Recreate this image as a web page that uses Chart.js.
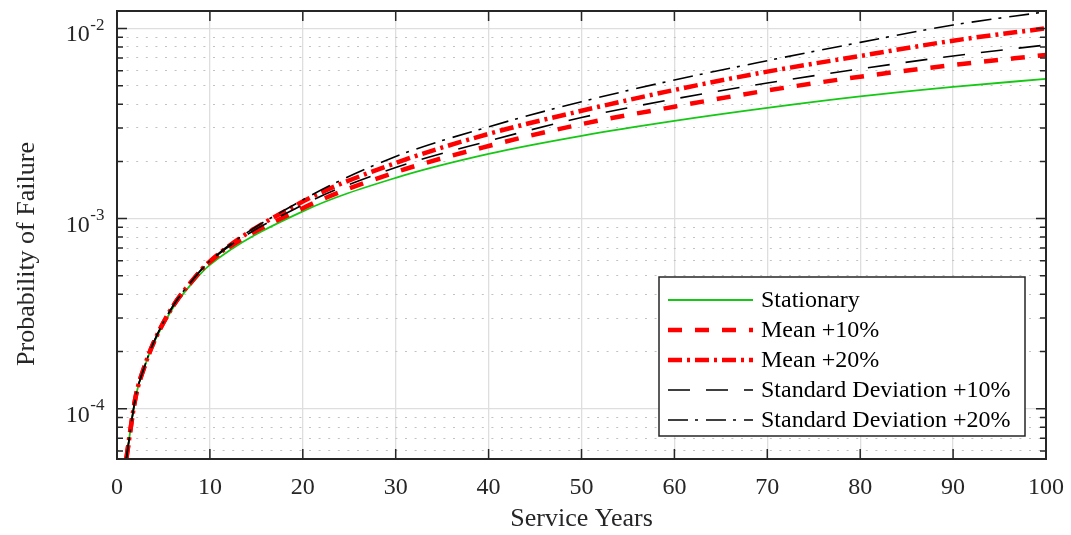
<!DOCTYPE html>
<html>
<head>
<meta charset="utf-8">
<script src="https://cdn.jsdelivr.net/npm/chart.js@4.4.1/dist/chart.umd.min.js"></script>
<style>
  html, body { margin: 0; padding: 0; background: #ffffff; }
  #wrap { width: 1071px; height: 535px; }
</style>
</head>
<body>
<div id="wrap"><canvas id="c" width="1071" height="535"></canvas></div>
<script>
// ---------------- data ----------------
const years = [1, 2, 3, 4, 6, 8, 10, 20, 30, 40, 50, 60, 70, 80, 90, 100];
const stationary = [5.44e-5, 1.15e-4, 1.68e-4, 2.24e-4, 3.38e-4, 4.52e-4, 5.71e-4, 1.092e-3, 1.638e-3, 2.189e-3, 2.723e-3, 3.264e-3, 3.82e-3, 4.39e-3, 4.93e-3, 5.43e-3];
const mean10 = [5.44e-5, 1.15e-4, 1.69e-4, 2.26e-4, 3.44e-4, 4.64e-4, 5.93e-4, 1.135e-3, 1.754e-3, 2.41e-3, 3.14e-3, 3.88e-3, 4.72e-3, 5.58e-3, 6.43e-3, 7.26e-3];
const mean20 = [5.44e-5, 1.15e-4, 1.69e-4, 2.26e-4, 3.45e-4, 4.66e-4, 5.96e-4, 1.229e-3, 1.96e-3, 2.79e-3, 3.69e-3, 4.75e-3, 5.93e-3, 7.17e-3, 8.63e-3, 1.002e-2];
const sd10 = [5.44e-5, 1.15e-4, 1.69e-4, 2.26e-4, 3.45e-4, 4.66e-4, 5.96e-4, 1.181e-3, 1.855e-3, 2.56e-3, 3.40e-3, 4.26e-3, 5.17e-3, 6.13e-3, 7.17e-3, 8.19e-3];
const sd20 = [5.44e-5, 1.15e-4, 1.69e-4, 2.27e-4, 3.46e-4, 4.68e-4, 6.0e-4, 1.255e-3, 2.12e-3, 3.04e-3, 4.12e-3, 5.36e-3, 6.77e-3, 8.45e-3, 1.043e-2, 1.225e-2];

const seriesNames = ['Stationary', 'Mean +10%', 'Mean +20%', 'Standard Deviation +10%', 'Standard Deviation +20%'];

const xTickValues = [0, 10, 20, 30, 40, 50, 60, 70, 80, 90, 100];
const xTickLabels = ['0', '10', '20', '30', '40', '50', '60', '70', '80', '90', '100'];
const yMajorTicks = [1e-4, 1e-3, 1e-2];
const yMin = 5.44e-5, yMax = 1.236e-2;
const xTitle = 'Service Years';
const yTitle = 'Probability of Failure';

// ---------------- styles ----------------
const FONT = "'Liberation Serif', 'Times New Roman', serif";
const AX = '#262626';
const styles = [
  { color: '#14c814', width: 1.8, dash: [] },
  { color: '#ff0000', width: 4.5, dash: [14, 13] },
  { color: '#ff0000', width: 4.5, dash: [14, 5, 3, 5] },
  { color: '#000000', width: 1.6, dash: [22, 16] },
  { color: '#000000', width: 1.6, dash: [20, 7, 3, 8] }
];
const seriesData = [stationary, mean10, mean20, sd10, sd20];

// y tick values (1..9 x 10^k inside the range)
const yTickValues = [];
for (let e = Math.floor(Math.log10(yMin)); e <= Math.ceil(Math.log10(yMax)); e++) {
  for (let k = 1; k <= 9; k++) {
    const v = k * Math.pow(10, e);
    if (v >= yMin && v <= yMax) yTickValues.push(v);
  }
}
const isMajorY = v => yMajorTicks.some(m => Math.abs(m - v) / m < 1e-9);

const datasets = seriesData.map((d, i) => ({
  label: seriesNames[i],
  data: years.map((x, j) => ({ x: x, y: d[j] })),
  borderColor: styles[i].color,
  backgroundColor: styles[i].color,
  borderWidth: styles[i].width,
  borderDash: styles[i].dash,
  borderCapStyle: 'butt',
  pointRadius: 0,
  fill: false,
  cubicInterpolationMode: 'monotone',
  order: 5 - i
}));

const deco = {
  id: 'deco',
  afterDraw(chart) {
    const { ctx, chartArea: a, scales: { x, y } } = chart;
    ctx.save();
    // inner tick marks
    ctx.strokeStyle = AX;
    ctx.lineWidth = 1.5;
    ctx.setLineDash([]);
    ctx.beginPath();
    y.ticks.forEach(t => {
      const py = y.getPixelForValue(t.value);
      const len = isMajorY(t.value) ? 10 : 6;
      ctx.moveTo(a.left, py); ctx.lineTo(a.left + len, py);
      ctx.moveTo(a.right, py); ctx.lineTo(a.right - len, py);
    });
    x.ticks.forEach(t => {
      const px = x.getPixelForValue(t.value);
      ctx.moveTo(px, a.bottom); ctx.lineTo(px, a.bottom - 10);
      ctx.moveTo(px, a.top); ctx.lineTo(px, a.top + 10);
    });
    ctx.stroke();
    // box
    ctx.lineWidth = 2;
    ctx.strokeRect(a.left, a.top, a.right - a.left, a.bottom - a.top);

    // y tick labels 10^k
    ctx.fillStyle = AX;
    yMajorTicks.forEach(v => {
      if (v < yMin || v > yMax) return;
      const py = y.getPixelForValue(v);
      const exp = String(Math.round(Math.log10(v)));
      ctx.font = '17px ' + FONT;
      const supW = ctx.measureText(exp).width;
      const right = a.left - 12.5;
      const supX = right - supW;
      ctx.textAlign = 'left';
      ctx.textBaseline = 'alphabetic';
      ctx.fillText(exp, supX, py + 1.5);
      ctx.font = '24px ' + FONT;
      ctx.textAlign = 'right';
      ctx.fillText('10', supX - 0.5, py + 13);
    });

    // y axis title
    ctx.save();
    ctx.translate(27, 254);
    ctx.rotate(-Math.PI / 2);
    ctx.font = '26px ' + FONT;
    ctx.fillStyle = AX;
    ctx.textAlign = 'center';
    ctx.textBaseline = 'middle';
    ctx.fillText(yTitle, 0, 0);
    ctx.restore();

    // legend
    const bw = 366, bh = 159;
    const bx = a.right - 21 - bw, by = a.bottom - 23 - bh;
    ctx.fillStyle = '#ffffff';
    ctx.fillRect(bx, by, bw, bh);
    ctx.strokeStyle = AX;
    ctx.lineWidth = 1.5;
    ctx.strokeRect(bx, by, bw, bh);
    ctx.font = '24px ' + FONT;
    ctx.textAlign = 'left';
    ctx.textBaseline = 'middle';
    seriesNames.forEach((n, i) => {
      const ry = by + 23 + i * 30;
      ctx.strokeStyle = styles[i].color;
      ctx.lineWidth = styles[i].width;
      ctx.setLineDash(styles[i].dash);
      ctx.lineCap = 'butt';
      ctx.beginPath();
      ctx.moveTo(bx + 9, ry); ctx.lineTo(bx + 94, ry);
      ctx.stroke();
      ctx.setLineDash([]);
      ctx.fillStyle = '#000000';
      ctx.fillText(n, bx + 102, ry + 1);
    });
    ctx.restore();
  }
};

new Chart(document.getElementById('c'), {
  type: 'line',
  data: { datasets: datasets },
  options: {
    responsive: false,
    animation: false,
    devicePixelRatio: 1,
    layout: { padding: { top: 11, right: 25, left: 0, bottom: 0 } },
    plugins: { legend: { display: false }, tooltip: { enabled: false } },
    scales: {
      x: {
        type: 'linear',
        min: 0, max: 100,
        afterBuildTicks: s => { s.ticks = xTickValues.map(v => ({ value: v })); },
        afterFit: s => { s.height = 76; s.paddingLeft = 0; s.paddingRight = 0; },
        ticks: {
          callback: (v, i) => xTickLabels[i],
          font: { family: FONT, size: 24 },
          color: AX,
          padding: 14,
          maxRotation: 0
        },
        grid: { color: '#dedede', lineWidth: 1.3, drawTicks: false },
        border: { display: false },
        title: {
          display: true,
          text: xTitle,
          font: { family: FONT, size: 26, lineHeight: 1.2 },
          color: AX,
          padding: { top: 0, bottom: 0 }
        }
      },
      y: {
        type: 'logarithmic',
        min: yMin, max: yMax,
        afterBuildTicks: s => { s.ticks = yTickValues.map(v => ({ value: v, major: isMajorY(v) })); },
        afterFit: s => { s.width = 117; s.paddingTop = 0; s.paddingBottom = 0; },
        ticks: { display: false },
        grid: {
          color: c => (c.tick && isMajorY(c.tick.value)) ? '#dedede' : '#c2c2c2',
          lineWidth: c => (c.tick && isMajorY(c.tick.value)) ? 1.3 : 1,
          drawTicks: false
        },
        border: {
          display: false,
          dash: c => (c.tick && isMajorY(c.tick.value)) ? [] : [2, 7.6]
        },
        title: { display: false }
      }
    }
  },
  plugins: [deco]
});
</script>
</body>
</html>
